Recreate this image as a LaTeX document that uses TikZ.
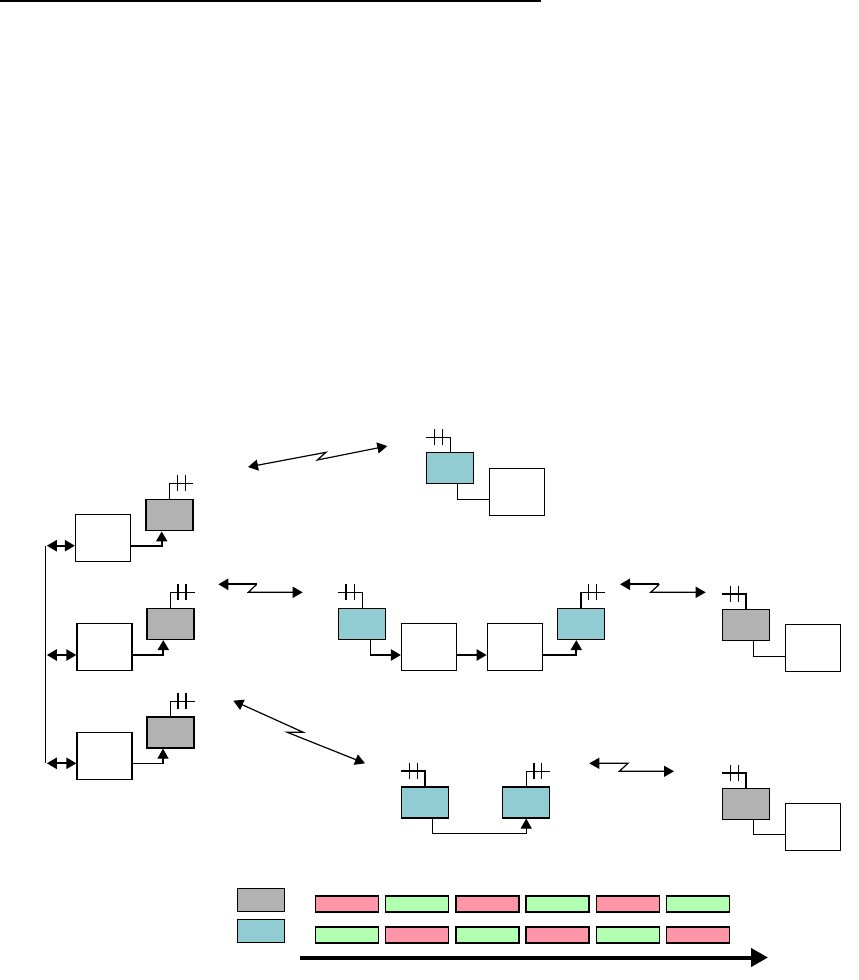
\documentclass[tikz,border=0pt]{standalone}
\usetikzlibrary{arrows.meta}
\definecolor{hopgrey}{HTML}{B2B2B2}
\definecolor{hopteal}{HTML}{92CCD3}
\definecolor{slotpink}{HTML}{FF96A8}
\definecolor{slotgreen}{HTML}{B2FFB2}
\tikzset{
  unitbox/.style={draw,fill=white,line width=1.2pt,inner sep=0pt,minimum width=55pt,minimum height=47pt},
  radiobox/.style={draw,line width=1.2pt,inner sep=0pt,minimum width=47pt,minimum height=31pt},
  keybox/.style={draw,line width=1.2pt,inner sep=0pt,minimum width=47pt,minimum height=23pt},
  slotbox/.style={draw,line width=1.4pt,inner sep=0pt,minimum width=63pt,minimum height=16pt},
  wire/.style={black,line width=1.2pt},
  heavy/.style={black,line width=2.2pt},
  tip/.style={-{Triangle[length=10pt,width=11pt]}},
  backtip/.style={{Triangle[length=10pt,width=11pt]}-},
  bothtip/.style={{Triangle[length=10pt,width=11pt]}-{Triangle[length=10pt,width=11pt]}}
}
\begin{document}
\begin{tikzpicture}[x=1pt,y=-1pt]
  \useasboundingbox (0,0) rectangle (859,980);
  % rule at the top
  \coordinate (ruleL) at (0,1);
  \coordinate (ruleR) at (541,1);
  \draw[wire] (ruleL)--(ruleR);

  % left column
  \node[radiobox,fill=hopgrey,line width=1.8pt] (ga) at (169.5,515) {};
  \node[radiobox,fill=hopgrey] (gb) at (170.5,624) {};
  \node[radiobox,fill=hopgrey] (gc) at (170.5,732.5) {};
  \node[unitbox] (wa) at (103,538.3) {};
  \node[unitbox] (wb) at (104.5,647) {};
  \node[unitbox] (wc) at (104.5,756) {};
  \coordinate (busa) at (45.3,545.7);
  \coordinate (busb) at (45.3,655);
  \coordinate (busc) at (45.3,763.3);
  \draw[wire] (busa)--(busc);
  \draw[heavy,bothtip] ([xshift=1.5pt]busa)--(wa.west |- busa);
  \draw[heavy,bothtip] ([xshift=1.5pt]busb)--(wb.west |- busb);
  \draw[heavy,bothtip] ([xshift=1.5pt]busc)--(wc.west |- busc);
  \coordinate (bendA) at (161.7,545.7);
  \coordinate (bendB) at (163.3,655);
  \coordinate (bendC) at (163,763.3);
  \draw[heavy,tip] (wa.east |- bendA)--(bendA)--(ga.south -| bendA);
  \draw[heavy,tip] (wb.east |- bendB)--(bendB)--(gb.south -| bendB);
  \draw[wire,tip] (wc.east |- bendC)--(bendC)--(gc.south -| bendC);

  % top right pair
  \node[radiobox,fill=hopteal] (ta) at (450.3,468) {};
  \node[unitbox] (wd) at (516.8,492) {};
  \coordinate (bendD) at (457.7,499.3);
  \draw[wire] (ta.south -| bendD)--(bendD)--(wd.west |- bendD);

  % middle chain
  \node[radiobox,fill=hopteal] (tb) at (362.3,624) {};
  \node[unitbox] (we) at (429,647) {};
  \node[unitbox] (wf) at (514.8,647) {};
  \node[radiobox,fill=hopteal] (tc) at (581,624) {};
  \coordinate (bendE) at (370.3,655);
  \coordinate (bendF) at (576.3,655);
  \draw[wire] (tb.south -| bendE)--(bendE);
  \draw[heavy,tip] (bendE)--(we.west |- bendE);
  \draw[heavy,tip] (we.east |- bendE)--(wf.west |- bendE);
  \draw[heavy,tip] (wf.east |- bendF)--(bendF)--(tc.south -| bendF);

  % right column
  \node[radiobox,fill=hopgrey] (gd) at (746,624.8) {};
  \node[unitbox] (wg) at (813,648.3) {};
  \node[radiobox,fill=hopgrey] (ge) at (746,803.8) {};
  \node[unitbox] (wh) at (813,826.8) {};
  \coordinate (bendG) at (753.3,656.3);
  \coordinate (bendH) at (753.3,834.3);
  \draw[wire] (gd.south -| bendG)--(bendG)--(wg.west |- bendG);
  \draw[wire] (ge.south -| bendH)--(bendH)--(wh.west |- bendH);

  % bottom pair
  \node[radiobox,fill=hopteal] (td) at (425,802.5) {};
  \node[radiobox,fill=hopteal] (te) at (526.2,802.5) {};
  \coordinate (bendJ) at (432.3,833.3);
  \draw[wire,tip] (td.south -| bendJ)--(bendJ)--(te.south |- bendJ)--(te.south);

  % aerials
  \foreach \bname/\ex/\ey/\ta/\tb/\lw in {
    ga/193/483.3/177.3/185.3/1.2,gb/195/592.3/178/186/1.2,gc/195/701.3/178/186/1.2,
    ta/426.3/437.3/434.3/442.7/1.2,tb/338.3/592.3/346/354.3/1.2,tc/605/592.3/588.3/596.7/1.2,
    gd/722.3/593.7/730.3/738.3/2.2,ge/722.3/772.7/730.3/738.3/2.2,
    td/401.3/771.3/409.3/417.3/2.2,te/550/771.3/534/541.7/1.2}{
    \draw[black,line width=\lw pt] (\bname.north) |- (\ex,\ey);
    \draw[wire] (\ta,\ey-8)--(\ta,\ey+8);
    \draw[wire] (\tb,\ey-8)--(\tb,\ey+8);
  }

  % radio links
  \coordinate (linkAl) at (248,467);
  \coordinate (linkAm) at (326,452.3);
  \coordinate (linkAn) at (317.3,460);
  \coordinate (linkAr) at (387.3,446);
  \draw[wire,bothtip] (linkAl)--(linkAm)--(linkAn)--(linkAr);
  \coordinate (linkBl) at (218.3,584.3);
  \coordinate (linkBm) at (256.7,584.3);
  \coordinate (linkBn) at (248.3,592.3);
  \coordinate (linkBr) at (302.7,592.3);
  \draw[heavy,backtip] (linkBl)--(linkBm);
  \draw[wire,tip] (linkBm)--(linkBn)--(linkBr);
  \coordinate (linkCl) at (233.3,700.7);
  \coordinate (linkCm) at (303.3,732.3);
  \coordinate (linkCn) at (287.3,732.3);
  \coordinate (linkCr) at (365,763.3);
  \draw[wire,bothtip] (linkCl)--(linkCm)--(linkCn)--(linkCr);
  \coordinate (linkDl) at (620,584.3);
  \coordinate (linkDm) at (659.3,584.3);
  \coordinate (linkDn) at (650.7,592.3);
  \coordinate (linkDr) at (705.7,592.3);
  \draw[heavy,backtip] (linkDl)--(linkDm);
  \draw[wire,tip] (linkDm)--(linkDn)--(linkDr);
  \coordinate (linkEl) at (589.3,763.3);
  \coordinate (linkEm) at (628,763.3);
  \coordinate (linkEn) at (619.3,771.3);
  \coordinate (linkEr) at (674,771.3);
  \draw[wire,bothtip] (linkEl)--(linkEm)--(linkEn)--(linkEr);

  % key and slots
  \node[keybox,fill=hopgrey] (keygrey) at (260.8,899.8) {};
  \node[keybox,fill=hopteal] (keyteal) at (260.8,931) {};
  \foreach \sx/\upc/\loc [count=\n] in {
    347/slotpink/slotgreen,417/slotgreen/slotpink,487.5/slotpink/slotgreen,
    557.5/slotgreen/slotpink,628/slotpink/slotgreen,698/slotgreen/slotpink}{
    \node[slotbox,fill=\upc] (upper\n) at (\sx,904) {};
    \node[slotbox,fill=\loc] (lower\n) at (\sx,935) {};
  }
  \coordinate (timeL) at (300,957.5);
  \coordinate (timeR) at (768,957.5);
  \draw[black,line width=4pt,-{Triangle[length=17pt,width=18pt]}] (timeL)--(timeR);
\end{tikzpicture}
\end{document}
